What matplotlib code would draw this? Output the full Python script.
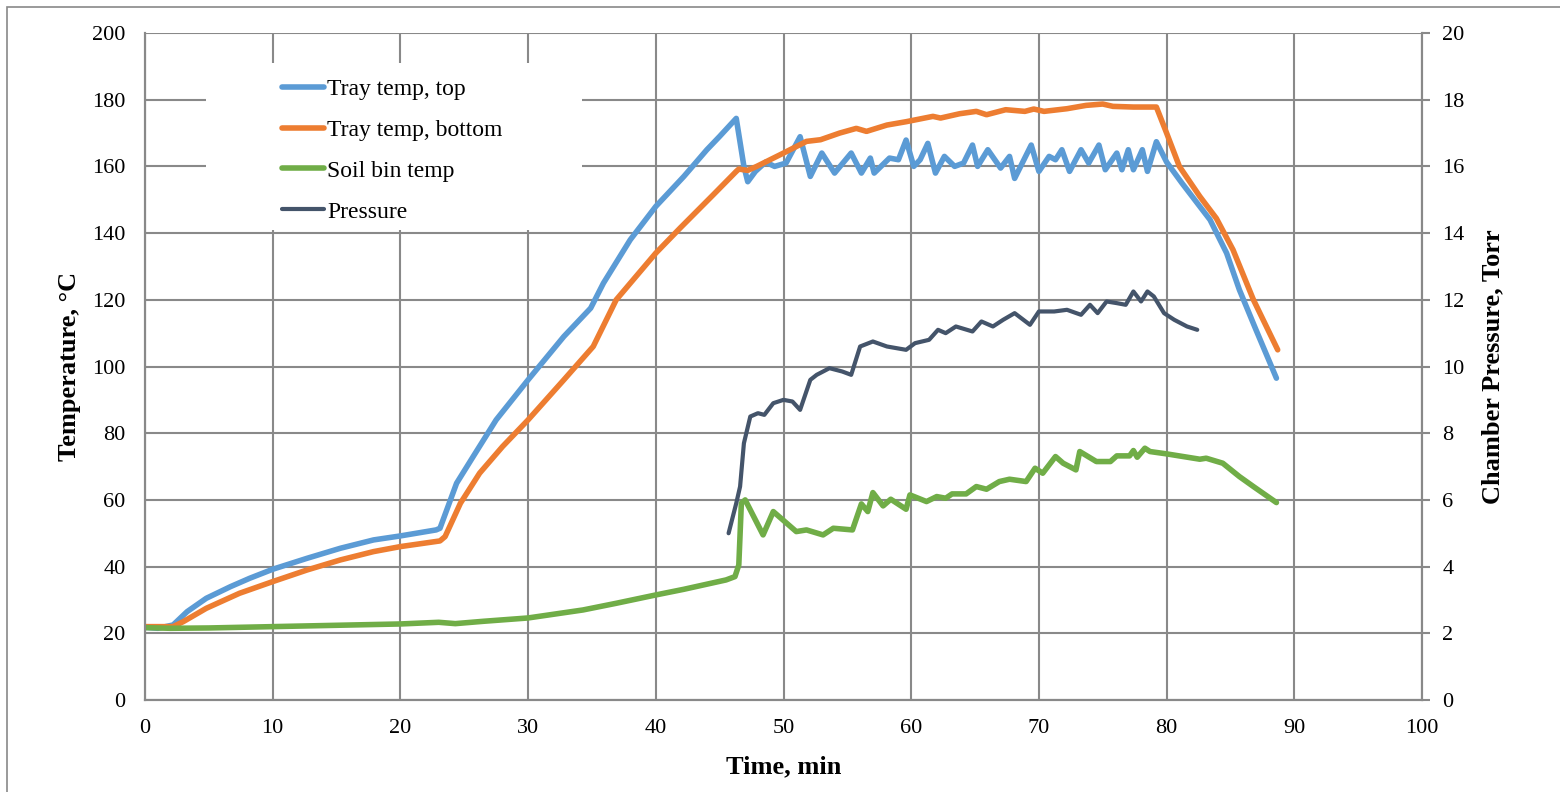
import matplotlib.pyplot as plt
from matplotlib.patches import Rectangle

# Tray temp, top (min, degC)
top_t = [0, 1, 2.2, 3.3, 4.8, 6.7, 8.2, 10, 12.7, 15.3, 17.9, 20, 22.8, 23.1,
         24.4, 25.7, 27.5, 30, 32.8, 34.9, 35.9, 38, 40, 42.2, 44, 45, 46.3,
         46.9, 47.2, 47.8, 48.6, 49.3, 50.2, 51.3, 52.1, 53.0, 54.0, 55.3, 56.1,
         56.8, 57.1, 58.3, 59.0, 59.6, 60.2, 60.7, 61.3, 61.9, 62.6, 63.4, 64.1,
         64.8, 65.2, 66.0, 67.0, 67.7, 68.1, 69.4, 70.0, 70.8, 71.3, 71.8, 72.4,
         73.3, 73.9, 74.7, 75.2, 76.1, 76.5, 77.0, 77.4, 78.1, 78.5, 79.2, 80.0,
         81.2, 82.6, 83.4, 84.7, 85.7, 87.0, 88.6]
top_temp = [21.8, 21.5, 22.5, 26.5, 30.5, 34, 36.5, 39.2, 42.5, 45.5, 48, 49.2,
            51, 51.5, 65, 73, 84, 96, 109, 117.5, 125, 138, 148, 157, 165, 169,
            174.4, 160, 155.4, 158.5, 161.3, 160, 161, 168.9, 157, 164, 158, 164,
            158, 162.5, 158, 162.5, 162, 167.9, 160, 162, 166.9, 158, 163, 160,
            161, 166.4, 160, 165, 159.5, 163, 156.4, 166.4, 158.5, 163, 162, 165,
            158.5, 165, 161, 166.4, 159, 164, 159, 165, 159, 165, 158.5, 167.4,
            161.3, 155, 148, 144, 134, 123, 111, 96.5]

# Tray temp, bottom
bot_t = [0, 2.2, 3.0, 4.8, 7.4, 10, 12.7, 15.3, 17.9, 20, 23.1, 23.5, 24.7,
         26.2, 28, 30, 32.8, 35.1, 36.9, 40, 41.9, 44.5, 46.3, 46.5, 47.2, 47.9,
         50, 51.8, 52.9, 54.4, 55.7, 56.5, 58.1, 59.6, 61.7, 62.3, 63.8, 65.1,
         65.9, 67.4, 68.9, 69.6, 70.4, 72.2, 73.7, 75.0, 75.8, 77.4, 79.2, 80,
         81, 82.6, 83.9, 85.2, 86.8, 88.7]
bot_temp = [22, 22, 23.5, 27.5, 32, 35.5, 39, 42, 44.5, 46, 47.7, 49, 59, 68,
            76, 84, 96, 106, 120, 134, 141.5, 151.5, 158.5, 159.2, 158.8, 160,
            164, 167.5, 168, 170, 171.4, 170.5, 172.4, 173.4, 175, 174.5, 175.8,
            176.5, 175.5, 177, 176.5, 177.2, 176.5, 177.3, 178.3, 178.7, 178,
            177.8, 177.8, 170, 160, 151, 144.4, 135, 120, 105]

# Soil bin temp
soil_t = [0, 2, 5, 10, 15, 20, 23, 24.3, 26.5, 30, 34.3, 36.9, 40, 42.2, 45.5,
          46.2, 46.5, 46.7, 47.0, 48.4, 49.2, 49.8, 51, 51.8, 53.1, 53.9, 55.4,
          56.1, 56.6, 57.0, 57.8, 58.4, 59.6, 59.9, 61.2, 62, 62.7, 63.2, 64.3,
          65.1, 65.9, 66.9, 67.7, 69.0, 69.7, 70.3, 71.3, 71.9, 72.9, 73.2, 74.5,
          75.6, 76.1, 77.1, 77.4, 77.7, 78.3, 78.7, 80, 82.6, 83.1, 84.4, 85.7,
          86.8, 88.6]
soil_temp = [21.7, 21.5, 21.6, 22, 22.4, 22.8, 23.3, 22.9, 23.6, 24.6, 27, 29,
             31.5, 33.2, 36, 37, 40.5, 59, 60, 49.5, 56.5, 54.5, 50.5, 51, 49.5,
             51.5, 51, 58.8, 56.5, 62.2, 58.2, 60.2, 57.2, 61.5, 59.5, 61, 60.5,
             61.8, 61.8, 64, 63.2, 65.5, 66.2, 65.5, 69.5, 68, 73, 71, 69, 74.5,
             71.5, 71.5, 73.2, 73.2, 74.8, 72.8, 75.5, 74.5, 73.8, 72.2, 72.5, 71,
             67, 64, 59.2]

# Chamber pressure (Torr)
pres_t = [45.7, 46.3, 46.6, 46.9, 47.4, 48.0, 48.5, 49.2, 50, 50.7, 51.3, 52.1,
          52.6, 53.6, 54.6, 55.3, 56, 57, 58.1, 59.6, 60.3, 61.4, 62.1, 62.7,
          63.5, 64.8, 65.5, 66.4, 67.2, 68.1, 69.3, 70, 71.2, 72.2, 73.3, 74,
          74.6, 75.3, 76.1, 76.8, 77.4, 78, 78.5, 79, 79.8, 80.6, 81.6, 82.4]
pressure = [5.0, 5.9, 6.4, 7.7, 8.5, 8.6, 8.55, 8.9, 9.0, 8.95, 8.7, 9.6, 9.75,
            9.95, 9.85, 9.75, 10.6, 10.75, 10.6, 10.5, 10.7, 10.8, 11.1, 11.0,
            11.2, 11.05, 11.35, 11.2, 11.4, 11.6, 11.25, 11.65, 11.65, 11.7,
            11.55, 11.85, 11.6, 11.95, 11.9, 11.85, 12.25, 11.95, 12.25, 12.1,
            11.6, 11.4, 11.2, 11.1]

GRID = '#898989'

plt.rcParams['font.family'] = 'Liberation Serif'

fig = plt.figure(figsize=(15.6, 7.92), dpi=100)
ax = fig.add_axes([145 / 1560, 1 - 700 / 792, 1277 / 1560, 667 / 792])
ax2 = ax.twinx()

line_kw = dict(solid_joinstyle='round', solid_capstyle='round')
l1, = ax.plot(top_t, top_temp, color='#5B9BD5', lw=4.0, label='Tray temp, top', **line_kw)
l2, = ax.plot(bot_t, bot_temp, color='#ED7D31', lw=4.0, label='Tray temp, bottom', **line_kw)
l3, = ax.plot(soil_t, soil_temp, color='#70AD47', lw=4.0, label='Soil bin temp', **line_kw)
l4, = ax2.plot(pres_t, pressure, color='#44546A', lw=3.0, label='Pressure', **line_kw)

ax.set_xlim(0, 100)
ax.set_ylim(0, 200)
ax2.set_ylim(0, 20)
ax.set_xticks(range(0, 101, 10))
ax.set_yticks(range(0, 201, 20))
ax2.set_yticks(range(0, 21, 2))

ax.set_axisbelow(True)
ax.grid(True, color=GRID, lw=1.5)

for a in (ax, ax2):
    for s in a.spines.values():
        s.set_color(GRID)
        s.set_linewidth(1.5)
ax.spines['top'].set_visible(False)
ax2.spines['top'].set_visible(False)

ax.tick_params(axis='both', length=0, labelsize=16)
ax.tick_params(axis='y', pad=14)
ax.tick_params(axis='x', pad=14)
ax2.tick_params(axis='y', length=5.5, width=1.5, color=GRID, direction='out',
                pad=9, labelsize=16)

ax.set_xlabel('Time, min', fontsize=19, fontweight='bold', labelpad=12)
ax.set_ylabel('Temperature, °C', fontsize=19, fontweight='bold', labelpad=8)
ax2.set_ylabel('Chamber Pressure, Torr', fontsize=19, fontweight='bold', labelpad=12)

# white legend background covering the grid
ax.add_patch(Rectangle((0.048, 0.705), 0.294, 0.25, transform=ax.transAxes,
                       facecolor='white', edgecolor='none', zorder=1))
ax2.legend(handles=[l1, l2, l3, l4], loc='upper left',
           bbox_to_anchor=(0.107, 0.932), frameon=False, fontsize=17,
           handlelength=1.8, handletextpad=0.12, labelspacing=0.82,
           borderpad=0, borderaxespad=0)

# outer chart border
fig.add_artist(Rectangle((7 / 1560, -0.1), 2, 1 - 7 / 792 + 0.1,
                         transform=fig.transFigure, fill=False,
                         edgecolor=GRID, lw=1.2))

fig.savefig('out.png', dpi=100)
